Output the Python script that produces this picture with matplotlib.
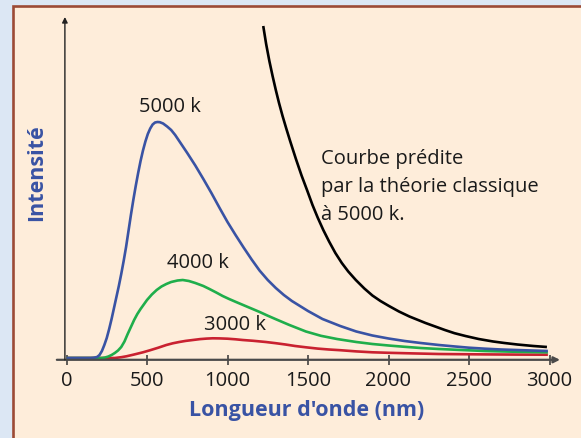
import matplotlib
matplotlib.use('Agg')
import matplotlib.pyplot as plt
from matplotlib.patches import Rectangle

# Données (longueur d'onde en nm, intensité en unités arbitraires)
nm_5000 = [0, 150, 170, 190, 205, 220, 235, 250, 265, 280, 295, 310, 325, 340, 355, 370,
           385, 400, 415, 430, 445, 460, 475, 490, 505, 520, 535, 550, 565, 580, 600,
           625, 650, 675, 700, 750, 800, 850, 900, 951, 1000, 1050, 1100,
           1150, 1199, 1250, 1300, 1350, 1400, 1450, 1500, 1590, 1700, 1800, 1900,
           2000, 2100, 2200, 2313, 2400, 2500, 2600, 2700, 2850, 2990]
i_5000 = [0, 0, 0.3, 1, 3, 7, 13, 20, 29, 39, 50, 61, 72, 84, 97, 111,
          127, 143, 158, 172, 185, 197, 207.5, 216.5, 224, 229.5, 233.5, 235.5, 236, 235.8, 234.5,
          231.5, 228, 223, 217, 205, 192.5, 179, 165, 150, 136, 123, 110.5,
          98.5, 87.5, 78, 70, 63, 57, 52, 47, 39, 32, 26.5, 22.5,
          19.5, 17, 15, 13, 11.7, 10.3, 9.3, 8.5, 7.7, 7]

nm_4000 = [0, 220, 240, 260, 280, 300, 320, 340, 360, 380, 400, 420, 440, 460, 480, 500,
           530, 560, 590, 620, 650, 690, 722, 760, 800, 850, 888, 930, 970, 1010, 1053,
           1100, 1150, 1200, 1250, 1300, 1380, 1487, 1580, 1680, 1800, 1900, 2000, 2100,
           2200, 2313, 2450, 2600, 2800, 2990]
i_4000 = [0, 0, 0.5, 1.5, 3, 5, 7.5, 11, 16.5, 24, 31, 38, 44, 49, 53.5, 58,
          63.5, 68, 71.5, 74, 76, 77.5, 78, 77, 75, 72, 69, 65.5, 62, 59, 56,
          52.8, 49.4, 46, 42.3, 38.8, 33.3, 26.5, 22.2, 19, 16, 14, 12.5, 11.2,
          10, 9, 8, 7, 6.2, 5.7]

nm_3000 = [0, 300, 340, 372, 420, 475, 520, 570, 620, 660, 700, 740, 785, 830, 870, 908,
           950, 1000, 1050, 1094, 1160, 1238, 1300, 1360, 1420, 1487, 1560, 1630, 1700,
           1800, 1900, 2000, 2150, 2313, 2450, 2600, 2800, 2990]
i_3000 = [0, 0, 0.8, 1.7, 3.5, 5.7, 7.8, 10.3, 13, 14.7, 16, 17.1, 18, 18.9, 19.4, 19.7,
          19.6, 19.3, 18.7, 18, 17.2, 16, 14.8, 13.5, 12, 10.7, 9.4, 8.5, 7.8,
          6.6, 5.7, 5.2, 4.6, 4, 3.8, 3.6, 3.4, 3.3]

nm_classique = [1222, 1240, 1260, 1280, 1300, 1320, 1342, 1365, 1390, 1425, 1460, 1495,
                1528, 1560, 1595, 1631, 1670, 1710, 1750, 1797, 1850, 1900, 1950, 2003,
                2065, 2130, 2230, 2290, 2350, 2410, 2478, 2560, 2650, 2720, 2800, 2900, 2984]
i_classique = [332, 314, 297, 282, 268, 255, 242, 229.5, 216.5, 199, 182.5, 167.5,
               153, 140.5, 128, 116.5, 105, 95, 86.5, 78, 69.5, 62.5, 57, 52,
               46.5, 41.5, 35, 31.5, 28, 24.8, 22, 19, 16.5, 15, 13.5, 12, 11]

ticks = [0, 500, 1000, 1500, 2000, 2500, 3000]

bleu = '#3953a4'
vert = '#1fae4b'
rouge = '#c92130'
texte = '#1a1a1a'
police = 'Open Sans'
taille = 14.5

W, H = 581, 439
fig = plt.figure(figsize=(W / 100, H / 100), dpi=100, facecolor='#dce7f4')

# Cadre beige avec bordure
fig.patches.append(Rectangle((12.5 / W, -0.1), 1.2, (H - 7) / H + 0.1,
                             transform=fig.transFigure, facecolor='#feedda',
                             edgecolor='#9c4a35', lw=1.9, zorder=-10))

ax = fig.add_axes([66.5 / W, (H - 359) / H, 483 / W, 340 / H])
ax.set_zorder(5)
ax.set_facecolor('none')
ax.set_xlim(0, 3000)
ax.set_ylim(0, 340)

ax.plot(nm_3000, i_3000, color=rouge, lw=1.9, solid_capstyle='butt', clip_on=False)
ax.plot(nm_4000, i_4000, color=vert, lw=1.9, solid_capstyle='butt', clip_on=False)
ax.plot(nm_5000, i_5000, color=bleu, lw=1.9, solid_capstyle='butt', clip_on=False)
ax.plot(nm_classique, i_classique, color='black', lw=1.9, solid_capstyle='butt', clip_on=False)

# Axes avec flèches
for s in ax.spines.values():
    s.set_visible(False)
ax.spines['bottom'].set_position(('data', -1.8))
ax.annotate('', xy=(3065, -1.8), xytext=(-60, -1.8), annotation_clip=False,
            arrowprops=dict(arrowstyle='-|>', color='#4a4a4a', lw=1.6, mutation_scale=9,
                            shrinkA=0, shrinkB=0))
ax.annotate('', xy=(-10, 341), xytext=(-10, -1.8), annotation_clip=False,
            arrowprops=dict(arrowstyle='-|>', color='#222222', lw=1.0, mutation_scale=8,
                            shrinkA=0, shrinkB=0))

ax.set_xticks(ticks)
ax.set_xticklabels([str(t) for t in ticks], fontsize=taille, color=texte, family=police)
ax.tick_params(axis='x', direction='inout', length=7, width=1.1, color='#333333', pad=3.5)
ax.set_yticks([])

# Etiquettes des courbes
ax.text(643, 252, '5000 k', ha='center', va='center', fontsize=taille, color=texte, family=police)
ax.text(817, 96, '4000 k', ha='center', va='center', fontsize=taille, color=texte, family=police)
ax.text(1047, 34, '3000 k', ha='center', va='center', fontsize=taille, color=texte, family=police)
ax.text(1581, 172, 'Courbe prédite\npar la théorie classique\nà 5000 k.', ha='left', va='center',
        fontsize=taille, color=texte, family=police, linespacing=1.55)

fig.text(307 / W, 1 - 411 / H, "Longueur d'onde (nm)", ha='center', va='center',
         fontsize=15.5, fontweight='bold', color=bleu, family=police)
fig.text(37 / W, 1 - 173 / H, 'Intensité', ha='center', va='center', rotation=90,
         fontsize=15.5, fontweight='bold', color=bleu, family=police)

fig.savefig('out.png', dpi=100, facecolor=fig.get_facecolor())
